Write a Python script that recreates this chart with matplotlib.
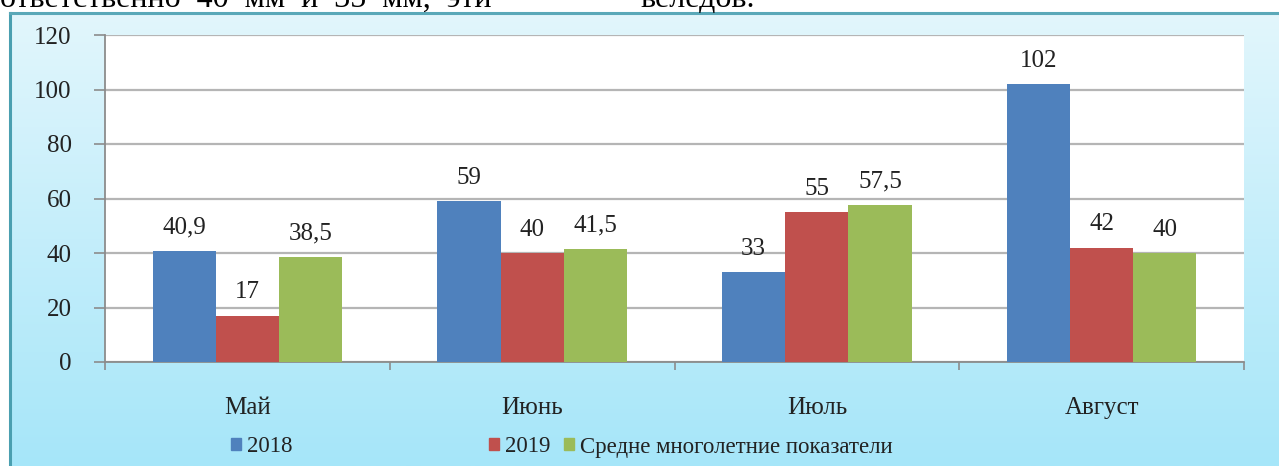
import numpy as np
import matplotlib
matplotlib.use("Agg")
import matplotlib.pyplot as plt
from matplotlib import font_manager as fm
from matplotlib.patches import Patch
from matplotlib.lines import Line2D

# ----------------------------------------------------------
# ДАННЫЕ
# ----------------------------------------------------------
months = ["Май", "Июнь", "Июль", "Август"]
vals_2018 = [40.9, 59, 33, 102]
vals_2019 = [17, 40, 55, 42]
vals_mean = [38.5, 41.5, 57.5, 40]
series_names = ["2018", "2019", "Средне многолетние показатели"]
y_ticks = [0, 20, 40, 60, 80, 100, 120]

# ----------------------------------------------------------
# ОФОРМЛЕНИЕ
# ----------------------------------------------------------
COLORS = ["#4f81bd", "#c0504d", "#9bbb59"]
W, H = 1279, 466
BAR_W = 0.222
FS = 18
TXT_C = "#222222"

# шрифт типа Times: берём файл напрямую
serif_file = None
for pref in ["LiberationSerif-Regular", "FreeSerif.", "DejaVuSerif."]:
    for f in fm.fontManager.ttflist:
        if pref in f.fname.split("/")[-1]:
            serif_file = f.fname
            break
    if serif_file:
        break


def fp(size=FS):
    if serif_file:
        return fm.FontProperties(fname=serif_file, size=size)
    return fm.FontProperties(family="serif", size=size)


def fmt(v):
    s = f"{v:g}"
    return s.replace(".", ",")


fig = plt.figure(figsize=(W / 100, H / 100), dpi=100, facecolor="white")

# фон диаграммы (градиент)
bg = fig.add_axes([10 / W, 0, 1 - 10 / W, (H - 13) / H], zorder=-5)
grad = np.linspace(0, 1, 256).reshape(-1, 1)
top_c = np.array([0xe2, 0xf6, 0xfc]) / 255
bot_c = np.array([0xa6, 0xe6, 0xf9]) / 255
img = top_c[None, None, :] * (1 - grad[:, :, None]) + bot_c[None, None, :] * grad[:, :, None]
bg.imshow(img, aspect="auto", extent=[0, 1, 0, 1])
bg.set_axis_off()

# рамка
fig.add_artist(Line2D([10 / W, 10 / W], [0, (H - 13) / H], color="#4a9fb0", lw=2.2))
fig.add_artist(Line2D([10 / W, 1], [(H - 13) / H, (H - 13) / H], color="#5aa8b8", lw=2.2))

# обрезанная строка текста сверху
fig.text(0.0, (H + 1) / H, "ответственно  40  мм  и  35  мм,  эти",
         ha="left", va="center", color="black", fontproperties=fp(23))
fig.text(640 / W, (H + 1) / H, "веледов.",
         ha="left", va="center", color="black", fontproperties=fp(23))

# ----------------------------------------------------------
# ГИСТОГРАММА
# ----------------------------------------------------------
ax = fig.add_axes([105 / W, (H - 362) / H, (1244 - 105) / W, (362 - 35) / H])
ax.set_facecolor("white")

x = np.arange(len(months))
for i, (vals, col) in enumerate(zip([vals_2018, vals_2019, vals_mean], COLORS)):
    bars = ax.bar(x + (i - 1) * BAR_W, vals, width=BAR_W, color=col, zorder=3)
    for b, v in zip(bars, vals):
        ax.annotate(fmt(v), (b.get_x() + b.get_width() / 2, v),
                    xytext=(0, 9), textcoords="offset points",
                    ha="center", va="bottom", color=TXT_C, fontproperties=fp())

ax.set_xlim(-0.5, len(months) - 0.5)
ax.set_ylim(0, 120)
ax.set_yticks(y_ticks)
ax.yaxis.grid(True, color="#b5b5b5", lw=1.6, zorder=0)
ax.set_axisbelow(True)

ax.set_xticks(x)
ax.set_xticklabels(months, fontproperties=fp())
ax.set_yticklabels([str(t) for t in y_ticks], fontproperties=fp())
ax.set_xticks(np.arange(len(months) + 1) - 0.5, minor=True)
ax.tick_params(axis="x", which="major", length=0, pad=25, labelcolor=TXT_C)
ax.tick_params(axis="x", which="minor", length=6, color="#8c8c8c", width=1.2)
ax.tick_params(axis="y", length=8, color="#8c8c8c", width=1.2, pad=16, labelcolor=TXT_C)

for s in ["top", "right"]:
    ax.spines[s].set_visible(False)
for s in ["left", "bottom"]:
    ax.spines[s].set_color("#8c8c8c")
    ax.spines[s].set_linewidth(1.3)

# ----------------------------------------------------------
# ЛЕГЕНДА (три отдельных элемента, как в Excel)
# ----------------------------------------------------------
leg_x = [231, 489, 564]
for name, col, lx in zip(series_names, COLORS, leg_x):
    lg = fig.legend(handles=[Patch(color=col, label=name)], loc="center left",
                    bbox_to_anchor=(lx / W, (H - 447) / H), frameon=False,
                    handlelength=0.45, handleheight=0.45, handletextpad=0.25,
                    borderpad=0, borderaxespad=0, prop=fp(16.5))
    for t in lg.get_texts():
        t.set_color(TXT_C)

fig.savefig("out.png", dpi=100, facecolor="white")
